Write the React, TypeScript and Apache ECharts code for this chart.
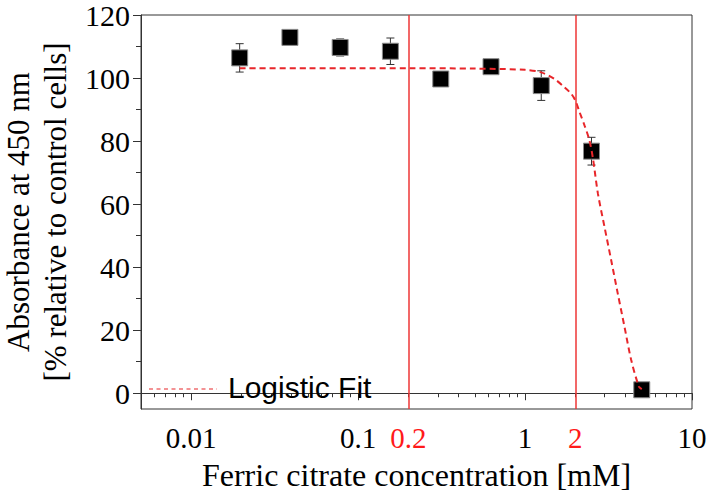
import React, { useEffect, useRef } from "react";
import * as echarts from "echarts";

const concentrations = [0.0195, 0.039, 0.078, 0.156, 0.3125, 0.625, 1.25, 2.5, 5];
const absorbance = [106.4, 112.9, 109.7, 108.5, 99.7, 103.6, 97.6, 76.8, 1.1];
const absorbanceErr = [4.5, 0, 2.7, 4.2, 0, 0, 4.7, 4.4, 0];

const fitX = [0.0195, 0.05, 0.1, 0.2, 0.5, 1.0, 1.25, 1.5, 1.72, 1.89, 2.0, 2.12, 2.27, 2.43, 2.55, 2.73, 2.99, 3.28, 3.59, 3.94, 4.32, 4.8, 5.0];
const fitY = [103.1, 103.1, 103.1, 103.1, 103.0, 102.6, 101.8, 99.7, 97.1, 95.0, 92.9, 89.2, 85.0, 80.2, 74.5, 63.4, 52.8, 42.2, 31.7, 21.1, 10.6, 2.2, 1.3];

const markedConcentrations = [0.2, 2];
const yTickValues = [0, 20, 40, 60, 80, 100, 120];
const yMinorTickValues = [10, 30, 50, 70, 90, 110];
const xMinorTickValues = [
  0.005, 0.006, 0.007, 0.008, 0.009,
  0.02, 0.03, 0.04, 0.05, 0.06, 0.07, 0.08, 0.09,
  0.2, 0.3, 0.4, 0.5, 0.6, 0.7, 0.8, 0.9,
  2, 3, 4, 5, 6, 7, 8, 9,
];

const SERIF = "Liberation Serif";
const SANS = "Liberation Sans";
const RED_LINE = "#ee3636";
const RED_TEXT = "#ff1a1a";
const FIT_RED = "#e8262a";

export default function App() {
  const ref = useRef<HTMLDivElement>(null);

  useEffect(() => {
    document.body.style.margin = "0";
    if (!ref.current) return;
    const chart = echarts.init(ref.current, undefined, { renderer: "svg" });

    const points = concentrations.map((c, i) => [c, absorbance[i]]);
    const errData = concentrations
      .map((c, i) => [c, absorbance[i] - absorbanceErr[i], absorbance[i] + absorbanceErr[i]])
      .filter((_, i) => absorbanceErr[i] > 0);
    const fitData = fitX.map((x, i) => [x, fitY[i]]);

    const isPow10 = (v: number) => {
      const l = Math.log10(v);
      return Math.abs(l - Math.round(l)) < 1e-6;
    };

    chart.setOption({
      animation: false,
      graphic: [
        {
          type: "line",
          z: 10,
          shape: { x1: 149, y1: 389, x2: 217, y2: 389 },
          style: { stroke: FIT_RED, lineWidth: 1.2, lineDash: [4, 3.5] },
        },
      ],
      grid: {
        left: 141,
        right: 17,
        top: 15,
        bottom: 87,
        show: true,
        borderColor: "#333",
        borderWidth: 1,
        backgroundColor: "transparent",
        containLabel: false,
        outerBoundsMode: "none",
      },
      legend: {
        data: ["Logistic Fit"],
        left: 149,
        top: 367,
        itemWidth: 68,
        itemHeight: 12,
        itemStyle: { opacity: 0 },
        lineStyle: { opacity: 0 },
        textStyle: {
          fontFamily: SANS,
          fontSize: 30,
          color: "#000",
          padding: [0, 0, 0, 0],
        },
      },
      xAxis: [
        {
          type: "log",
          logBase: 10,
          min: 0.005,
          max: 10,
          name: "Ferric citrate concentration [mM]",
          nameLocation: "middle",
          nameGap: 50,
          nameTextStyle: { fontFamily: SERIF, fontSize: 32, color: "#000" },
          axisLine: { show: true, lineStyle: { color: "#333", width: 1 } },
          axisTick: { show: true, inside: false, length: 7, lineStyle: { color: "#333" } },
          axisLabel: {
            margin: 14,
            fontFamily: SERIF,
            fontSize: 29,
            color: "#000",
            formatter: (v: number) => (isPow10(v) ? String(parseFloat(v.toPrecision(3))) : ""),
          },
          splitLine: { show: false },
          minorTick: { show: false },
        },
        {
          type: "log",
          logBase: 10,
          min: 0.005,
          max: 10,
          position: "bottom",
          axisLine: { show: false },
          axisTick: {
            show: true,
            inside: false,
            length: 4,
            customValues: xMinorTickValues,
            lineStyle: { color: "#333" },
          },
          axisLabel: { show: false },
          splitLine: { show: false },
        },
      ],
      yAxis: [
        {
          type: "value",
          min: -5,
          max: 120,
          name: "Absorbance at 450 nm\n[% relative to control cells]",
          nameLocation: "middle",
          nameGap: 62,
          nameTextStyle: { fontFamily: SERIF, fontSize: 31, color: "#000", lineHeight: 37 },
          axisLine: { show: true, lineStyle: { color: "#333", width: 1 } },
          axisTick: { show: true, inside: false, length: 8, customValues: yTickValues, lineStyle: { color: "#333" } },
          axisLabel: {
            margin: 11,
            fontFamily: SERIF,
            fontSize: 30,
            lineHeight: 26,
            color: "#000",
            customValues: yTickValues,
          },
          splitLine: { show: false },
        },
        {
          type: "value",
          min: -5,
          max: 120,
          position: "left",
          axisLine: { show: false },
          axisTick: { show: true, inside: false, length: 5, customValues: yMinorTickValues, lineStyle: { color: "#333" } },
          axisLabel: { show: false },
          splitLine: { show: false },
        },
      ],
      series: [
        {
          type: "custom",
          name: "err",
          data: errData,
          encode: { x: 0, y: [1, 2] },
          z: 1,
          renderItem: (_params: any, api: any) => {
            const x = api.value(0);
            const lo = api.coord([x, api.value(1)]);
            const hi = api.coord([x, api.value(2)]);
            const hw = 4;
            const style = { stroke: "#333", lineWidth: 1 };
            return {
              type: "group",
              children: [
                { type: "line", shape: { x1: lo[0], y1: lo[1], x2: hi[0], y2: hi[1] }, style },
                { type: "line", shape: { x1: hi[0] - hw, y1: hi[1], x2: hi[0] + hw, y2: hi[1] }, style },
                { type: "line", shape: { x1: lo[0] - hw, y1: lo[1], x2: lo[0] + hw, y2: lo[1] }, style },
              ],
            };
          },
        },
        {
          type: "scatter",
          name: "data",
          data: points,
          symbol: "rect",
          symbolSize: 16,
          itemStyle: { color: "#000", borderColor: "#8a8a8a", borderWidth: 1, opacity: 1 },
          z: 2,
          markLine: {
            silent: true,
            symbol: ["none", "none"],
            lineStyle: { color: RED_LINE, width: 1.5, type: "solid" },
            label: {
              show: true,
              position: "start",
              distance: 14,
              fontFamily: SERIF,
              fontSize: 29,
              color: RED_TEXT,
              formatter: (p: any) => String(p.value),
            },
            data: markedConcentrations.map((v) => ({ xAxis: v })),
          },
        },
        {
          type: "line",
          name: "Logistic Fit",
          data: fitData,
          showSymbol: false,
          symbol: "none",
          smooth: 0.3,
          z: 4,
          lineStyle: { color: FIT_RED, width: 2, type: [6, 4] },
          itemStyle: { color: FIT_RED },
        },
      ],
    });

    return () => chart.dispose();
  }, []);

  return <div ref={ref} style={{ width: 709, height: 496 }} />;
}
